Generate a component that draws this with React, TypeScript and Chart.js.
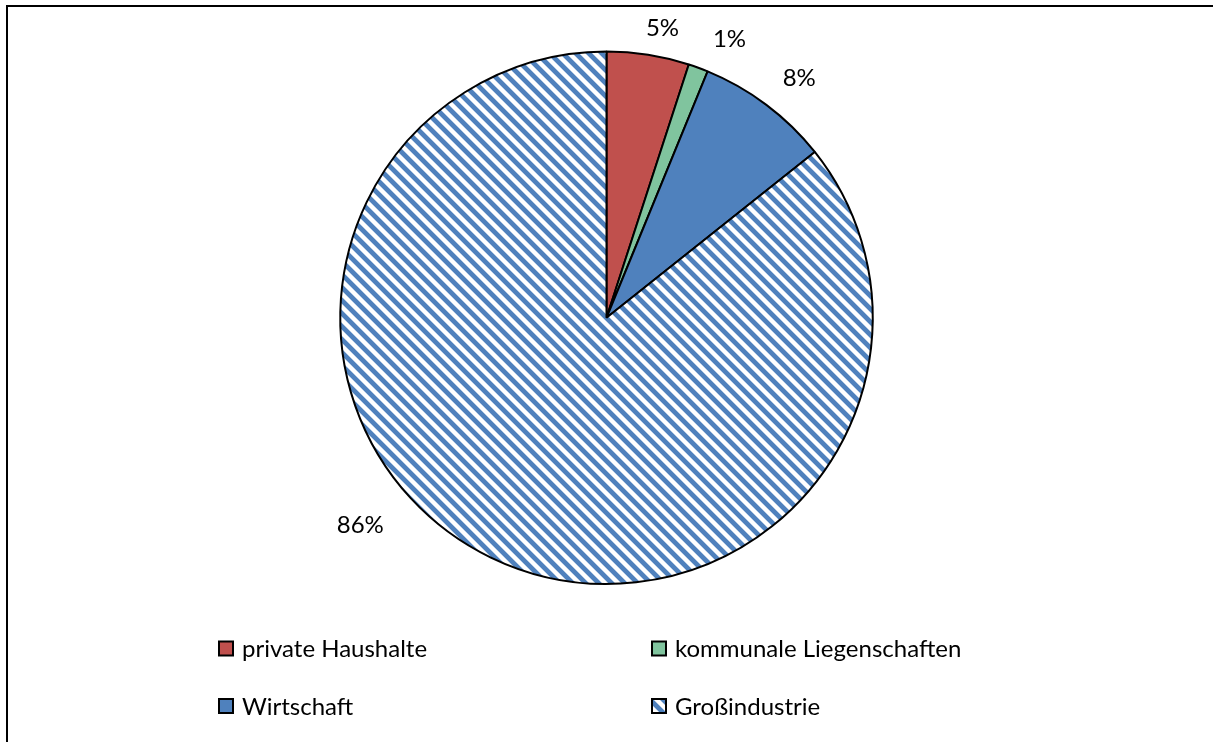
import React, { useEffect, useRef } from "react";
import { Chart, registerables } from "chart.js";

Chart.register(...registerables);

const categories = ["private Haushalte", "kommunale Liegenschaften", "Wirtschaft", "Großindustrie"];
const shares = [5.0, 1.2, 8.1, 85.7];
const percentLabels = ["5%", "1%", "8%", "86%"];
const sliceColors = ["#C0504D", "#80C49E", "#4F81BD", "hatch"];
// label placement nudges (angle shift in degrees, distance beyond rim in px)
const labelAngleShift = [1.9, 3.6, 1.8, 24.3];
const labelGap = [30, 39, 42, 55];

const FONT = "Lato, 'Carlito', Calibri, sans-serif";
const FONT_SIZE = 24;

function makeHatch(ctx: CanvasRenderingContext2D): CanvasPattern | string {
  const s = 13;
  const band = 6;
  const c = document.createElement("canvas");
  c.width = s;
  c.height = s;
  const g = c.getContext("2d");
  if (!g) return "#4F81BD";
  const img = g.createImageData(s, s);
  for (let y = 0; y < s; y++) {
    for (let x = 0; x < s; x++) {
      const k = (((x - y) % s) + s) % s;
      const idx = (y * s + x) * 4;
      let t = 0;
      if (k < band) t = 1;
      if (k === band || k === s - 1) t = 0.4;
      img.data[idx] = Math.round(255 + (0x4f - 255) * t);
      img.data[idx + 1] = Math.round(255 + (0x81 - 255) * t);
      img.data[idx + 2] = Math.round(255 + (0xbd - 255) * t);
      img.data[idx + 3] = 255;
    }
  }
  g.putImageData(img, 0, 0);
  return ctx.createPattern(c, "repeat") || "#4F81BD";
}

const labelsPlugin = {
  id: "outerLabels",
  afterDatasetsDraw(chart: any) {
    const ctx: CanvasRenderingContext2D = chart.ctx;
    const meta = chart.getDatasetMeta(0);
    ctx.save();
    ctx.font = `${FONT_SIZE}px ${FONT}`;
    ctx.fillStyle = "#000";
    ctx.textAlign = "center";
    ctx.textBaseline = "middle";
    meta.data.forEach((arc: any, i: number) => {
      const p = arc.getProps(["x", "y", "startAngle", "endAngle", "outerRadius"], true);
      const mid = (p.startAngle + p.endAngle) / 2 + (labelAngleShift[i] * Math.PI) / 180;
      const d = p.outerRadius + labelGap[i];
      ctx.fillText(percentLabels[i], p.x + Math.cos(mid) * d, p.y + Math.sin(mid) * d + 1);
    });
    ctx.restore();
  },
};

const legendPlugin = {
  id: "gridLegend",
  afterDraw(chart: any) {
    const ctx: CanvasRenderingContext2D = chart.ctx;
    const ds = chart.data.datasets[0];
    const colX = [211, 644];
    const rowY = [640.5, 698];
    const box = 14;
    ctx.save();
    ctx.font = `${FONT_SIZE}px ${FONT}`;
    ctx.textBaseline = "middle";
    ctx.textAlign = "left";
    (chart.data.labels as string[]).forEach((label, i) => {
      const x = colX[i % 2];
      const y = rowY[Math.floor(i / 2)];
      const bg = Array.isArray(ds.backgroundColor) ? ds.backgroundColor[i] : ds.backgroundColor;
      ctx.fillStyle = bg;
      ctx.fillRect(x, y - box / 2, box, box);
      ctx.lineWidth = 2;
      ctx.strokeStyle = "#000";
      ctx.strokeRect(x, y - box / 2, box, box);
      ctx.fillStyle = "#000";
      ctx.fillText(label, x + box + 9, y + 1);
    });
    ctx.restore();
  },
};

export default function App() {
  const canvasRef = useRef<HTMLCanvasElement | null>(null);

  useEffect(() => {
    const canvas = canvasRef.current;
    if (!canvas) return;
    const ctx = canvas.getContext("2d");
    if (!ctx) return;
    const hatch = makeHatch(ctx);
    const colors = sliceColors.map((c) => (c === "hatch" ? hatch : c));
    const chart = new Chart(canvas, {
      type: "pie",
      data: {
        labels: categories,
        datasets: [
          {
            data: shares,
            backgroundColor: colors as any,
            borderColor: "#000000",
            borderWidth: 2,
          },
        ],
      },
      options: {
        animation: false,
        responsive: false,
        maintainAspectRatio: false,
        layout: { padding: { top: 42.5, bottom: 149, left: 0, right: 0 } },
        plugins: {
          legend: { display: false },
          tooltip: { enabled: false },
          title: { display: false },
        },
      },
      plugins: [labelsPlugin, legendPlugin],
    });
    return () => chart.destroy();
  }, []);

  return (
    <div style={{ position: "relative", width: 1197, height: 726 }}>
      <div
        style={{
          position: "fixed",
          left: 6,
          top: 5,
          width: 1400,
          height: 1000,
          border: "2px solid #000",
          boxSizing: "border-box",
          pointerEvents: "none",
        }}
      />
      <canvas ref={canvasRef} width={1197} height={726} style={{ display: "block", width: 1197, height: 726 }} />
    </div>
  );
}
